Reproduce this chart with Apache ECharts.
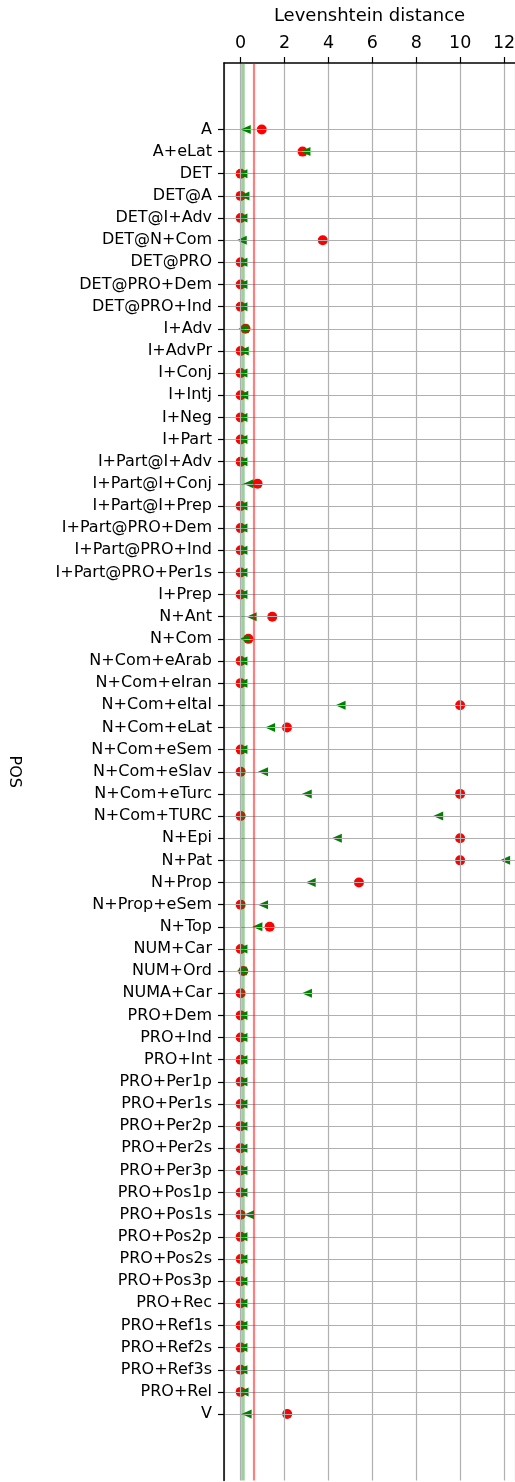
<!DOCTYPE html>
<html>
<head>
<meta charset="utf-8">
<script src="https://cdn.jsdelivr.net/npm/echarts@6/dist/echarts.min.js"></script>
<style>
html,body{margin:0;padding:0;background:#fff;}
#chart{width:515px;height:1482px;}
</style>
</head>
<body>
<div id="chart"></div>
<script>
// ---- data ----
const categories = [
  'A','A+eLat','DET','DET@A','DET@I+Adv','DET@N+Com','DET@PRO','DET@PRO+Dem','DET@PRO+Ind',
  'I+Adv','I+AdvPr','I+Conj','I+Intj','I+Neg','I+Part','I+Part@I+Adv','I+Part@I+Conj',
  'I+Part@I+Prep','I+Part@PRO+Dem','I+Part@PRO+Ind','I+Part@PRO+Per1s','I+Prep','N+Ant',
  'N+Com','N+Com+eArab','N+Com+eIran','N+Com+eItal','N+Com+eLat','N+Com+eSem','N+Com+eSlav',
  'N+Com+eTurc','N+Com+TURC','N+Epi','N+Pat','N+Prop','N+Prop+eSem','N+Top','NUM+Car',
  'NUM+Ord','NUMA+Car','PRO+Dem','PRO+Ind','PRO+Int','PRO+Per1p','PRO+Per1s','PRO+Per2p',
  'PRO+Per2s','PRO+Per3p','PRO+Pos1p','PRO+Pos1s','PRO+Pos2p','PRO+Pos2s','PRO+Pos3p',
  'PRO+Rec','PRO+Ref1s','PRO+Ref2s','PRO+Ref3s','PRO+Rel','V'
];
// red circles
const redValues = [
  0.96, 2.82, 0, 0, 0, 3.74, 0, 0, 0,
  0.22, 0, 0, 0, 0, 0, 0, 0.77,
  0, 0, 0, 0, 0, 1.44,
  0.35, 0, 0, 10.0, 2.11, 0, 0,
  10.0, 0, 10.0, 10.0, 5.39, 0, 1.32, 0,
  0.12, 0, 0, 0, 0, 0, 0, 0,
  0, 0, 0, 0, 0, 0, 0,
  0, 0, 0, 0, 0, 2.12
];
// green triangles
const greenValues = [
  0.23, 2.95, 0.08, 0.17, 0.08, 0.05, 0.08, 0.08, 0.08,
  0.13, 0.14, 0.08, 0.12, 0.08, 0.08, 0.08, 0.35,
  0.08, 0.08, 0.08, 0.08, 0.08, 0.5,
  0.2, 0.08, 0.08, 4.55, 1.34, 0.08, 1.02,
  3.01, 9.0, 4.38, 12.05, 3.19, 1.02, 0.76, 0.08,
  0.05, 3.02, 0.08, 0.08, 0.08, 0.08, 0.08, 0.08,
  0.08, 0.08, 0.08, 0.38, 0.08, 0.08, 0.08,
  0.08, 0.08, 0.08, 0.08, 0.13, 0.27
];
const greenLine = 0.09;
const redLine = 0.59;
const xTicks = [0, 2, 4, 6, 8, 10, 12];

// ---- chart ----
const PAD = 3;
const padTop = Array.from({length: PAD}, (_, i) => ' '.repeat(i + 1));
const padBot = Array.from({length: PAD}, (_, i) => ' '.repeat(PAD + i + 1));
const yData = padTop.concat(categories, padBot);
const isReal = (idx) => idx >= PAD && idx < PAD + categories.length;

const FONT = 'DejaVu Sans';
const chart = echarts.init(document.getElementById('chart'), null, {renderer: 'canvas'});
chart.setOption({
  animation: false,
  backgroundColor: '#ffffff',
  grid: {left: 224, right: 0, top: 63, bottom: 1.5, containLabel: false, outerBoundsMode: 'none'},
  xAxis: {
    type: 'value',
    position: 'top',
    min: -0.76,
    max: 12.5,
    splitNumber: 6,
    z: 3,
    name: 'Levenshtein distance',
    nameLocation: 'middle',
    nameGap: 38,
    nameTextStyle: {fontFamily: FONT, fontSize: 18, color: '#000'},
    axisLine: {show: true, lineStyle: {color: '#000', width: 1.5}},
    axisTick: {show: true, length: 6, lineStyle: {color: '#000', width: 1.2}},
    axisLabel: {
      show: true, margin: 11, fontFamily: FONT, fontSize: 17.5, color: '#000',
      showMinLabel: false, showMaxLabel: false,
      formatter: (v) => xTicks.indexOf(Math.round(v * 1000) / 1000) >= 0 ? String(v) : ''
    },
    splitLine: {show: true, lineStyle: {color: '#b0b0b0', width: 1.2}}
  },
  yAxis: {
    type: 'category',
    data: yData,
    inverse: true,
    boundaryGap: false,
    z: 3,
    name: 'POS',
    nameLocation: 'middle',
    nameGap: 202,
    nameRotate: -90,
    nameTextStyle: {fontFamily: FONT, fontSize: 16, color: '#000'},
    axisLine: {show: true, onZero: false, lineStyle: {color: '#000', width: 1.5}},
    axisTick: {show: true, length: 6, interval: (i) => isReal(i), lineStyle: {color: '#000', width: 1.2}},
    axisLabel: {show: true, interval: 0, margin: 12, fontFamily: FONT, fontSize: 16, color: '#000'},
    splitLine: {show: true, interval: (i) => isReal(i), lineStyle: {color: '#b0b0b0', width: 1.2}}
  },
  series: [
    {
      name: 'red',
      type: 'scatter',
      z: 2,
      symbol: 'circle',
      symbolSize: 10,
      itemStyle: {color: '#ff0000', opacity: 1},
      data: categories.map((c, i) => [redValues[i], c])
    },
    {
      name: 'green',
      type: 'scatter',
      z: 2,
      symbol: 'triangle',
      symbolRotate: 90,
      symbolSize: [9, 10],
      itemStyle: {color: '#008000', opacity: 1},
      data: categories.map((c, i) => [greenValues[i], c])
    },
    {
      name: 'lines',
      type: 'scatter',
      z: 4,
      data: [],
      markLine: {
        silent: true,
        symbol: ['none', 'none'],
        label: {show: false},
        animation: false,
        data: [
          {xAxis: greenLine, lineStyle: {color: 'rgba(0,128,0,0.38)', width: 3.5, type: 'solid'}},
          {xAxis: redLine, lineStyle: {color: 'rgba(255,0,0,0.5)', width: 2.2, type: 'solid'}}
        ]
      }
    }
  ]
});
</script>
</body>
</html>
